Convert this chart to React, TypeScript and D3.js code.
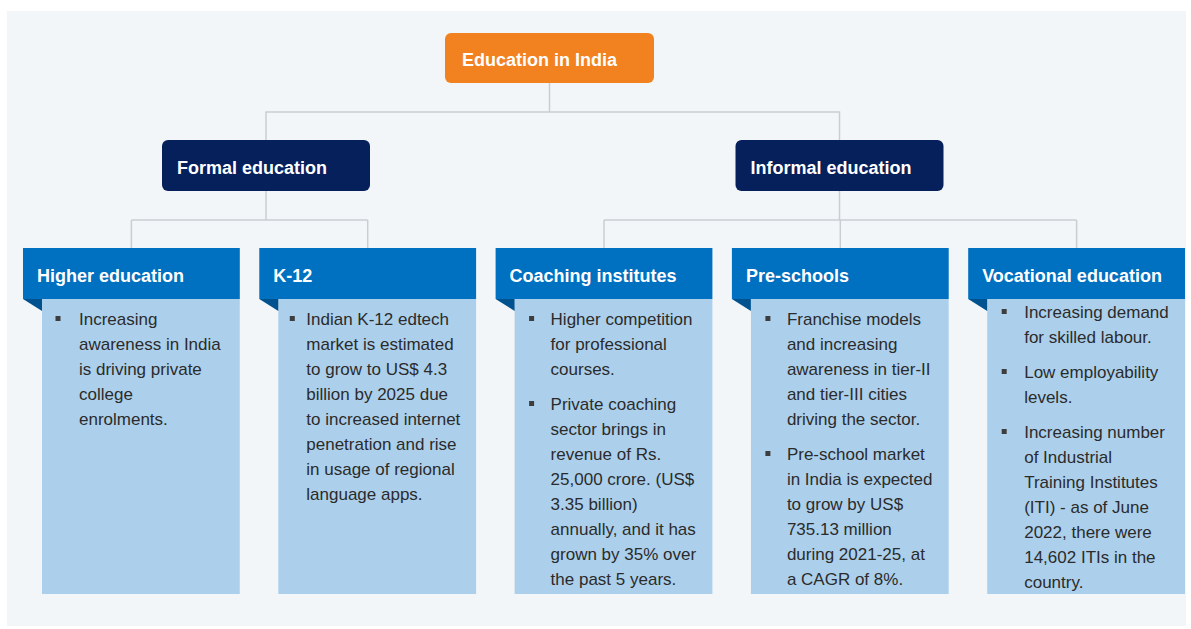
import React from "react";
import * as d3 from "d3";

const rootLabel = "Education in India";
const groupLabels = ["Formal education", "Informal education"];
const categories = [
  "Higher education",
  "K-12",
  "Coaching institutes",
  "Pre-schools",
  "Vocational education",
];
const categoryGroup = [0, 0, 1, 1, 1];
// bullets per category, each bullet is a list of wrapped lines
const bullets: string[][][] = [
  [["Increasing", "awareness in India", "is driving private", "college", "enrolments."]],
  [[
    "Indian K-12 edtech",
    "market is estimated",
    "to grow to US$ 4.3",
    "billion by 2025 due",
    "to increased internet",
    "penetration and rise",
    "in usage of regional",
    "language apps.",
  ]],
  [
    ["Higher competition", "for professional", "courses."],
    [
      "Private coaching",
      "sector brings in",
      "revenue of Rs.",
      "25,000 crore. (US$",
      "3.35 billion)",
      "annually, and it has",
      "grown by 35% over",
      "the past 5 years.",
    ],
  ],
  [
    [
      "Franchise models",
      "and increasing",
      "awareness in tier-II",
      "and tier-III cities",
      "driving the sector.",
    ],
    [
      "Pre-school market",
      "in India is expected",
      "to grow by US$",
      "735.13 million",
      "during 2021-25, at",
      "a CAGR of 8%.",
    ],
  ],
  [
    ["Increasing demand", "for skilled labour."],
    ["Low employability", "levels."],
    [
      "Increasing number",
      "of Industrial",
      "Training Institutes",
      "(ITI) - as of June",
      "2022, there were",
      "14,602 ITIs in the",
      "country.",
    ],
  ],
];

const W = 1191;
const H = 629;
const FONT = "Arial, 'Liberation Sans', Helvetica, sans-serif";

export default function App() {
  const x = d3
    .scaleBand<string>()
    .domain(categories)
    .range([23, 1185])
    .paddingInner(0.0825)
    .paddingOuter(0);
  const bw = x.bandwidth();
  const groupCx = [266, 839.5];
  const groupW = 208;
  const groupTop = 140;
  const groupH = 51;
  const rootCx = 549.5;
  const rootW = 209;
  const rootTop = 33;
  const rootH = 50;
  const headTop = 248;
  const headBot = 299;
  const bodyBot = 594;
  const bodyInset = 19;
  const foldDrop = 12;
  const lineColor = "#c9ced3";
  const lineH = 25;
  const bulletGap = 10;
  const bulletDx = [16, 14, 17, 17, 17];
  const textDx = [37, 28, 36, 36, 37];
  const firstBaseline = [325, 325, 325, 325, 318];

  const rootY1 = 112;
  const groupY1 = 220;

  const link = d3.line<[number, number]>();

  return (
    <svg
      width={W}
      height={H}
      style={{ position: "absolute", left: 0, top: 0, fontFamily: FONT }}
    >
      <rect x={0} y={0} width={W} height={H} fill="#ffffff" />
      <rect x={7} y={11} width={1179} height={615} fill="#f3f6f8" />

      {/* root connectors */}
      <path
        d={link([
          [rootCx, rootTop + rootH],
          [rootCx, rootY1],
        ])!}
        stroke={lineColor}
        strokeWidth={1.5}
        fill="none"
      />
      <path
        d={link([
          [groupCx[0], groupTop],
          [groupCx[0], rootY1],
          [groupCx[1], rootY1],
          [groupCx[1], groupTop],
        ])!}
        stroke={lineColor}
        strokeWidth={1.5}
        fill="none"
      />

      {/* group connectors */}
      {groupLabels.map((g, gi) => {
        const kids = categories.filter((_, i) => categoryGroup[i] === gi);
        const xs = kids.map((c) => (x(c) as number) + bw / 2);
        const lo = d3.min(xs) as number;
        const hi = d3.max(xs) as number;
        return (
          <g key={g}>
            <path
              d={link([
                [groupCx[gi], groupTop + groupH],
                [groupCx[gi], groupY1],
              ])!}
              stroke={lineColor}
              strokeWidth={1.5}
              fill="none"
            />
            <path
              d={link([
                [lo, groupY1],
                [hi, groupY1],
              ])!}
              stroke={lineColor}
              strokeWidth={1.5}
              fill="none"
            />
            {xs.map((cx, k) => (
              <path
                key={k}
                d={link([
                  [cx, groupY1],
                  [cx, headTop],
                ])!}
                stroke={lineColor}
                strokeWidth={1.5}
                fill="none"
              />
            ))}
          </g>
        );
      })}

      {/* root box */}
      <rect
        x={rootCx - rootW / 2}
        y={rootTop}
        width={rootW}
        height={rootH}
        rx={6}
        fill="#f2821f"
      />
      <text
        x={462}
        y={rootTop + 33}
        fill="#ffffff"
        fontWeight="bold"
        fontSize={18}
      >
        {rootLabel}
      </text>

      {/* group boxes */}
      {groupLabels.map((g, gi) => (
        <g key={g}>
          <rect
            x={groupCx[gi] - groupW / 2}
            y={groupTop}
            width={groupW}
            height={groupH}
            rx={6}
            fill="#06205c"
          />
          <text
            x={groupCx[gi] - groupW / 2 + 15}
            y={groupTop + 34}
            fill="#ffffff"
            fontWeight="bold"
            fontSize={18}
          >
            {g}
          </text>
        </g>
      ))}

      {/* category cards */}
      {categories.map((c, i) => {
        const x0 = x(c) as number;
        const bx = x0 + bodyInset;
        let y = firstBaseline[i];
        const items: React.ReactNode[] = [];
        bullets[i].forEach((b, bi) => {
          items.push(
            <rect
              key={"b" + bi}
              x={bx + bulletDx[i] - 2.5}
              y={y - 9}
              width={5}
              height={5}
              fill="#3d3d3d"
            />
          );
          b.forEach((ln, li) => {
            items.push(
              <text
                key={"t" + bi + "-" + li}
                x={bx + textDx[i]}
                y={y}
                fontSize={17}
                fill="#2b2b2b"
              >
                {ln}
              </text>
            );
            y += lineH;
          });
          y += bulletGap;
        });
        return (
          <g key={c}>
            <rect
              x={bx}
              y={headBot}
              width={x0 + bw - bx}
              height={bodyBot - headBot}
              fill="#acd0ec"
            />
            <rect
              x={x0}
              y={headTop}
              width={bw}
              height={headBot - headTop}
              fill="#0070c0"
            />
            <path
              d={`M${x0},${headBot}L${bx},${headBot}L${bx},${headBot + foldDrop}Z`}
              fill="#00528f"
            />
            <text
              x={x0 + 14}
              y={headTop + 34}
              fill="#ffffff"
              fontWeight="bold"
              fontSize={18}
            >
              {c}
            </text>
            {items}
          </g>
        );
      })}
    </svg>
  );
}
